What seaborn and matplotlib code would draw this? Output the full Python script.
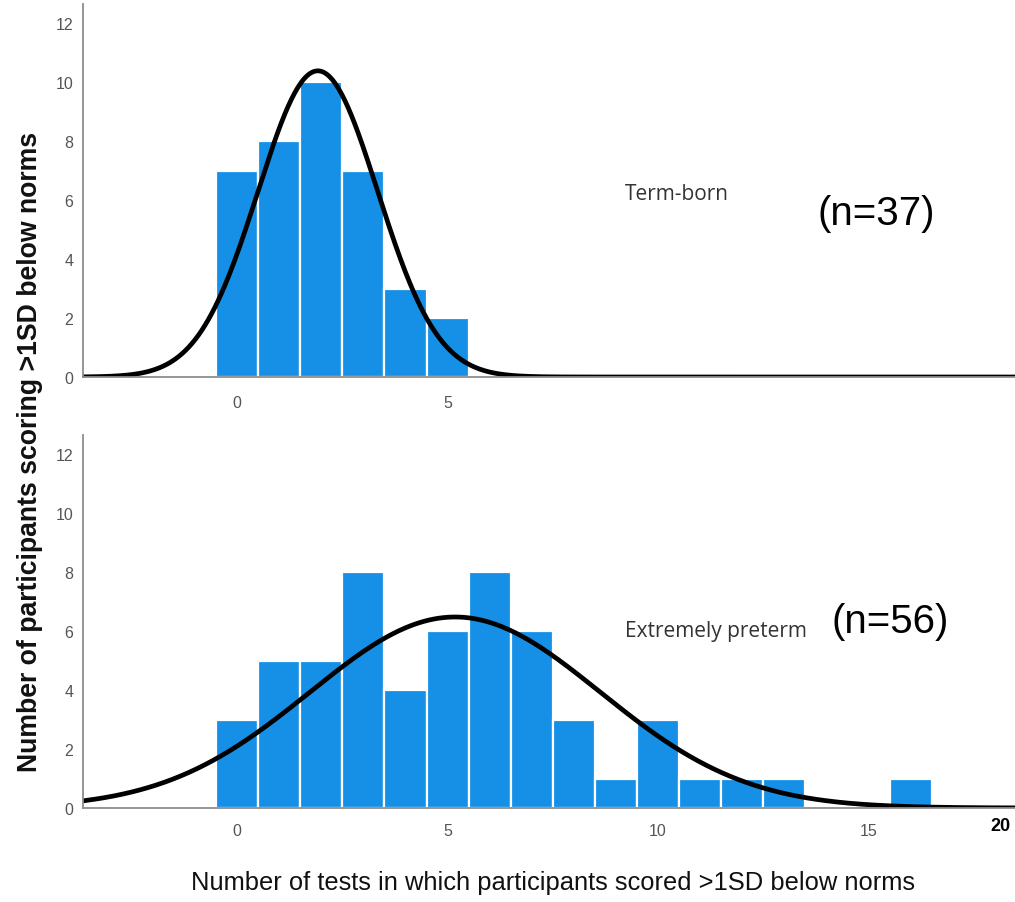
import numpy as np
import pandas as pd
import matplotlib
matplotlib.use("Agg")
import matplotlib.pyplot as plt
import seaborn as sns
import logging
logging.getLogger("matplotlib.font_manager").setLevel(logging.ERROR)

# ---- data ----
term_values = [0, 1, 2, 3, 4, 5]
term_counts = [7, 8, 10, 7, 3, 2]
preterm_values = [0, 1, 2, 3, 4, 5, 6, 7, 8, 9, 10, 11, 12, 13, 14, 15, 16]
preterm_counts = [3, 5, 5, 8, 4, 6, 8, 6, 3, 1, 3, 1, 1, 1, 0, 0, 1]
term_label = "Term-born"
preterm_label = "Extremely preterm"
term_n = "(n=37)"
preterm_n = "(n=56)"
y_ticks = [0, 2, 4, 6, 8, 10, 12]
top_x_ticks = [0, 5]
bottom_x_ticks = [0, 5, 10, 15]
y_label = "Number of participants scoring >1SD below norms"
x_label = "Number of tests in which participants scored >1SD below norms"

sns.set_theme(style="white")
narrow = ["Liberation Sans Narrow", "Liberation Sans", "DejaVu Sans"]
plt.rcParams["font.family"] = ["Liberation Sans", "DejaVu Sans"]

BAR = "#1590e6"
SPINE = "#8c8c8c"
TICK = "#555555"

W, H = 1015, 903
fig = plt.figure(figsize=(W / 100, H / 100), dpi=100)
fig.patch.set_facecolor("white")

left = 83 / W
width = 1 - left
XLIM = (-3.66, 18.48)
YLIM = (0, 12.65)


def panel(bottom_px, top_px, values, counts, xticks, tickpad):
    ax = fig.add_axes([left, 1 - bottom_px / H, width, (bottom_px - top_px) / H])
    df = pd.DataFrame({"x": values, "w": counts})
    sns.histplot(data=df, x="x", weights="w", discrete=True, ax=ax,
                 color=BAR, alpha=1, edgecolor="white", linewidth=1.6)
    v = np.array(values, float)
    c = np.array(counts, float)
    n = c.sum()
    m = (v * c).sum() / n
    sd = np.sqrt((c * (v - m) ** 2).sum() / (n - 1))
    xs = np.linspace(XLIM[0], XLIM[1] + 1, 600)
    ys = n / (sd * np.sqrt(2 * np.pi)) * np.exp(-0.5 * ((xs - m) / sd) ** 2)
    sns.lineplot(x=xs, y=ys, ax=ax, color="black", linewidth=3.4, sort=False)
    ax.set_xlim(*XLIM)
    ax.set_ylim(*YLIM)
    ax.set_xticks(xticks)
    ax.set_yticks(y_ticks)
    ax.set_xlabel("")
    ax.set_ylabel("")
    for s in ["top", "right"]:
        ax.spines[s].set_visible(False)
    for s in ["left", "bottom"]:
        ax.spines[s].set_color(SPINE)
        ax.spines[s].set_linewidth(1.3)
    ax.tick_params(axis="both", length=0, labelcolor=TICK, labelsize=11.5)
    ax.tick_params(axis="y", pad=7)
    ax.tick_params(axis="x", pad=tickpad)
    for lab in ax.get_xticklabels() + ax.get_yticklabels():
        lab.set_family(narrow)
    ax.set_facecolor("white")
    return ax


ax1 = panel(378, 5, term_values, term_counts, top_x_ticks, 13)
ax2 = panel(809, 436, preterm_values, preterm_counts, bottom_x_ticks, 11)

# annotations
fig.text(625 / W, 1 - 195 / H, term_label, ha="left", va="center",
         fontsize=15, color="#333333", family=["Open Sans", "DejaVu Sans"])
fig.text(818 / W, 1 - 214 / H, term_n, ha="left", va="center",
         fontsize=29, color="black")
fig.text(625 / W, 1 - 632 / H, preterm_label, ha="left", va="center",
         fontsize=15, color="#333333", family=["Open Sans", "DejaVu Sans"])
fig.text(832 / W, 1 - 622 / H, preterm_n, ha="left", va="center",
         fontsize=29, color="black")

fig.text(30 / W, 1 - 452 / H, y_label, rotation=90, ha="center", va="center",
         fontsize=19.2, fontweight="bold", color="#111111")
fig.text(553 / W, 1 - 883 / H, x_label, ha="center", va="center",
         fontsize=18.4, color="#111111", family=narrow)
fig.text(990 / W, 1 - 827 / H, "20", ha="left", va="center",
         fontsize=13, fontweight="bold", color="black")

fig.savefig("out.png", dpi=100, facecolor="white")
